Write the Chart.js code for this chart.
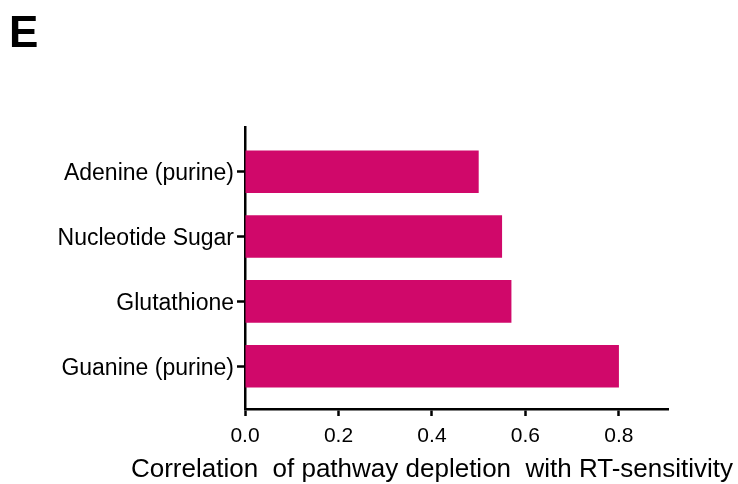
<!DOCTYPE html>
<html>
<head>
<meta charset="utf-8">
<script src="https://cdn.jsdelivr.net/npm/chart.js@4.4.1/dist/chart.umd.min.js"></script>
<style>
  html, body { margin: 0; padding: 0; background: #ffffff; }
  #wrap { width: 738px; height: 484px; position: relative; }
</style>
</head>
<body>
<div id="wrap"><canvas id="chart" width="738" height="484"></canvas></div>
<script>
// Pathways, listed top to bottom
const categories = ['Adenine (purine)', 'Nucleotide Sugar', 'Glutathione', 'Guanine (purine)'];
// Correlation of each pathway's depletion with RT-sensitivity
const correlation = [0.50, 0.55, 0.57, 0.80];
// Value-axis tick labels
const xTicks = [0.0, 0.2, 0.4, 0.6, 0.8];
const xMax = 0.905;

const panelLetter = 'E';
const axisTitle = 'Correlation  of pathway depletion  with RT-sensitivity';

const FONT = "'Liberation Sans', Arial, Helvetica, sans-serif";
const BAR_COLOR = '#D0086A';

// Panel letter and axis caption
const captions = {
  id: 'captions',
  afterDraw(chart) {
    const ctx = chart.ctx;
    ctx.save();
    ctx.fillStyle = '#000';
    ctx.textBaseline = 'alphabetic';
    ctx.textAlign = 'left';
    ctx.font = 'bold 44px ' + FONT;
    ctx.fillText(panelLetter, 9, 47);
    ctx.font = '26px ' + FONT;
    ctx.textAlign = 'center';
    ctx.fillText(axisTitle, 432, 477);
    ctx.restore();
  }
};

new Chart(document.getElementById('chart'), {
  type: 'bar',
  data: {
    datasets: [{
      data: categories.map((c, i) => ({ x: correlation[i], y: i })),
      backgroundColor: BAR_COLOR,
      borderWidth: 0,
      barPercentage: 0.656,
      categoryPercentage: 1.0
    }]
  },
  options: {
    indexAxis: 'y',
    responsive: false,
    animation: false,
    layout: { padding: { left: 0, right: 70, top: 127, bottom: 0 } },
    plugins: {
      legend: { display: false },
      tooltip: { enabled: false },
      title: { display: false }
    },
    scales: {
      x: {
        type: 'linear',
        min: 0,
        max: xMax,
        afterBuildTicks: (s) => { s.ticks = xTicks.map(v => ({ value: v })); },
        afterFit: (s) => { s.height = 75; },
        grid: {
          drawOnChartArea: false,
          drawTicks: true,
          tickLength: 7,
          tickWidth: 2.5,
          tickColor: '#000'
        },
        border: { display: true, color: '#000', width: 2.5 },
        ticks: {
          color: '#000',
          padding: 8,
          font: { family: FONT, size: 21 },
          callback: (v) => Number(v).toFixed(1)
        }
      },
      y: {
        type: 'linear',
        reverse: true,
        offset: false,
        min: -0.69,
        max: 3.66,
        afterBuildTicks: (s) => { s.ticks = categories.map((c, i) => ({ value: i })); },
        afterFit: (s) => { s.width = 245; },
        grid: {
          offset: false,
          drawOnChartArea: false,
          drawTicks: true,
          tickLength: 8,
          tickWidth: 2.5,
          tickColor: '#000'
        },
        border: { display: true, color: '#000', width: 2.5 },
        ticks: {
          color: '#000',
          padding: 3,
          labelOffset: 2,
          font: { family: FONT, size: 23 },
          callback: (v) => categories[v]
        }
      }
    }
  },
  plugins: [captions]
});
</script>
</body>
</html>
